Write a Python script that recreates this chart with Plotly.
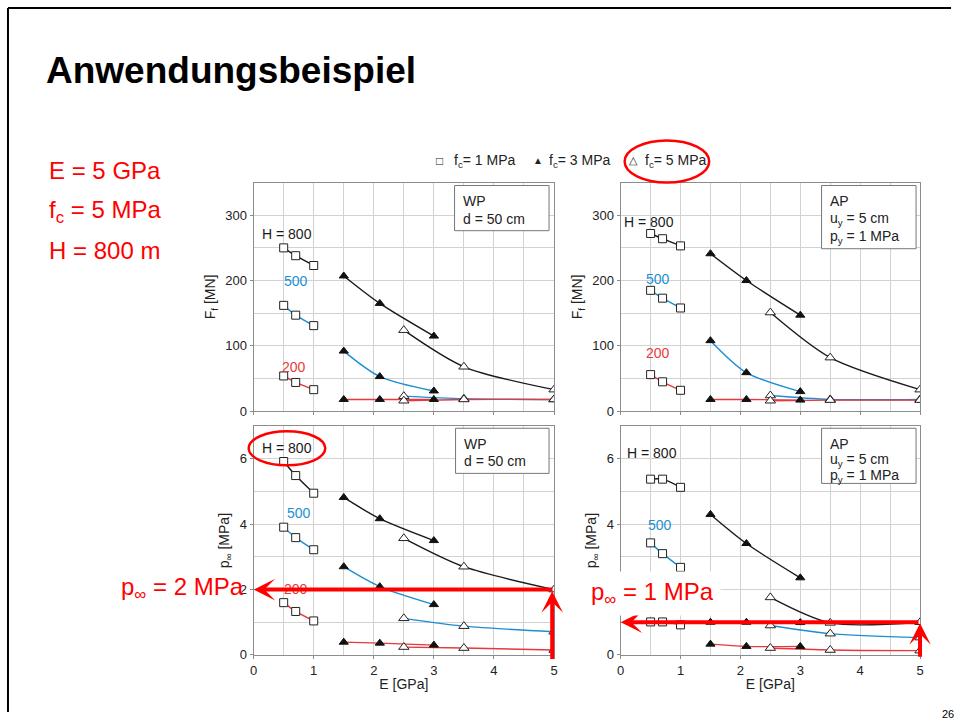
import plotly.graph_objects as go

W, H = 955, 720
FONT = "Liberation Sans, Arial, sans-serif"
RED = "#ff0000"

# the photographed page shows the figure slightly reduced; compensate so
# positions given in reference pixels land where they should
SX = 0.997
SY = 0.986


def px(x):
    return x / (W * SX)


def py(y):
    return 1 - y / (H * SY)


# ---------------- data ----------------
E_FC1 = [0.5, 0.7, 1.0]
E_FC3 = [1.5, 2.1, 3.0]
E_FC5 = [2.5, 3.5, 5.0]
H_LEVELS = ["800", "500", "200"]
H_COLORS = ["#1a1a1a", "#1b8fd2", "#e8383d"]

# rows: H = 800, 500, 200
WP_F_FC1 = [[250, 238, 223], [162, 147, 131], [54, 44, 33]]
WP_F_FC3 = [[207, 165, 115], [92, 53, 31], [18, 18, 18]]
WP_F_FC5 = [[124, 68, 33], [23, 19, 18], [16, 18, 18]]

AP_F_FC1 = [[272, 264, 253], [185, 173, 158], [56, 45, 32]]
AP_F_FC3 = [[241, 200, 147], [108, 59, 30], [18, 18, 17]]
AP_F_FC5 = [[151, 82, 33], [24, 18, 18], [16, 17, 17]]

WP_P_FC1 = [[5.92, 5.49, 4.95], [3.91, 3.59, 3.22], [1.60, 1.33, 1.04]]
WP_P_FC3 = [[4.82, 4.17, 3.50], [2.70, 2.09, 1.54], [0.39, 0.36, 0.30]]
WP_P_FC5 = [[3.57, 2.70, 2.00], [1.12, 0.88, 0.71], [0.24, 0.21, 0.15]]

AP_P_FC1 = [[5.38, 5.38, 5.13], [3.43, 3.10, 2.68], [1.01, 1.01, 0.92]]
AP_P_FC3 = [[4.30, 3.41, 2.36], [1.00, 1.00, 0.99], [0.33, 0.26, 0.26]]
AP_P_FC5 = [[1.76, 0.98, 1.00], [0.90, 0.65, 0.53], [0.21, 0.15, 0.13]]

F_TICKS = [0, 100, 200, 300]
P_TICKS = [0, 2, 4, 6]
E_TICKS = [0, 1, 2, 3, 4, 5]

E_TARGET = 5
P_WP_TARGET = 2
P_AP_TARGET = 1

# ---------------- figure ----------------
fig = go.Figure()

marker_styles = [
    dict(symbol="square", size=8, color="white", line=dict(color="#222", width=1)),
    dict(symbol="triangle-up", size=8, color="#111", line=dict(color="#111", width=1)),
    dict(symbol="triangle-up", size=9, color="white", line=dict(color="#222", width=1)),
]

panels = [
    ("x", "y", [WP_F_FC1, WP_F_FC3, WP_F_FC5]),
    ("x2", "y2", [AP_F_FC1, AP_F_FC3, AP_F_FC5]),
    ("x3", "y3", [WP_P_FC1, WP_P_FC3, WP_P_FC5]),
    ("x4", "y4", [AP_P_FC1, AP_P_FC3, AP_P_FC5]),
]
E_SETS = [E_FC1, E_FC3, E_FC5]

for xa, ya, groups in panels:
    for k, grp in enumerate(groups):
        for i, vals in enumerate(grp):
            fig.add_trace(go.Scatter(
                x=E_SETS[k], y=vals, xaxis=xa, yaxis=ya, mode="lines",
                line=dict(color=H_COLORS[i], width=1.4, shape="spline", smoothing=0.8),
                showlegend=False, hoverinfo="skip"))
    for k, grp in enumerate(groups):
        for i, vals in enumerate(grp):
            fig.add_trace(go.Scatter(
                x=E_SETS[k], y=vals, xaxis=xa, yaxis=ya, mode="markers",
                marker=marker_styles[k], showlegend=False,
                name=f"H={H_LEVELS[i]}"))

axis_common = dict(
    showline=True, linecolor="#8c8c8c", linewidth=1, mirror=True,
    showgrid=True, gridcolor="#d2d2d2", gridwidth=1, zeroline=False,
    tickfont=dict(family=FONT, size=13, color="#222"),
    ticks="outside", ticklen=3, tickcolor="#8c8c8c",
)

XL = [px(251), px(553)]
XR = [px(620), px(921)]
YT = [py(410), py(182)]
YB = [py(653), py(425)]

xcommon = dict(axis_common, range=[0, 5], tickmode="array", tickvals=E_TICKS,
               minor=dict(dtick=0.5, tick0=0, showgrid=True, gridcolor="#d2d2d2", ticks=""))
ytop = dict(axis_common, range=[0, 350], tickmode="array", tickvals=F_TICKS,
            minor=dict(dtick=50, tick0=0, showgrid=True, gridcolor="#d2d2d2", ticks=""),
            title=dict(text="F<sub>f</sub> [MN]", font=dict(family=FONT, size=14, color="#222"), standoff=6))
ybot = dict(axis_common, range=[0, 7], tickmode="array", tickvals=P_TICKS,
            minor=dict(dtick=1, tick0=0, showgrid=True, gridcolor="#d2d2d2", ticks=""),
            title=dict(text="p<sub>∞</sub> [MPa]", font=dict(family=FONT, size=14, color="#222"), standoff=6))
xtitle = dict(text="E [GPa]", font=dict(family=FONT, size=14, color="#222"), standoff=2)

fig.update_layout(
    width=W, height=H,
    margin=dict(l=0, r=0, t=0, b=0),
    paper_bgcolor="white", plot_bgcolor="white",
    font=dict(family=FONT, color="#222"),
    showlegend=False,
    xaxis=dict(xcommon, domain=XL, anchor="y", showticklabels=False),
    yaxis=dict(ytop, domain=YT, anchor="x"),
    xaxis2=dict(xcommon, domain=XR, anchor="y2", showticklabels=False),
    yaxis2=dict(ytop, domain=YT, anchor="x2"),
    xaxis3=dict(xcommon, domain=XL, anchor="y3", title=xtitle),
    yaxis3=dict(ybot, domain=YB, anchor="x3"),
    xaxis4=dict(xcommon, domain=XR, anchor="y4", title=xtitle),
    yaxis4=dict(ybot, domain=YB, anchor="x4"),
)

ann = []
shapes = []


def txt(text, x, y, size, color="#222", xanchor="left", yanchor="middle", **kw):
    ann.append(dict(text=text, x=x, y=y, xref="paper", yref="paper", showarrow=False,
                    xanchor=xanchor, yanchor=yanchor,
                    font=dict(family=FONT, size=size, color=color), **kw))


# slide frame
shapes.append(dict(type="line", xref="paper", yref="paper", x0=px(4), x1=1.0, y0=py(8), y1=py(8),
                   line=dict(color="black", width=2)))
shapes.append(dict(type="line", xref="paper", yref="paper", x0=px(4), x1=px(4), y0=py(8), y1=0.0,
                   line=dict(color="black", width=2)))

# title and parameters
txt("<b>Anwendungsbeispiel</b>", px(40), py(70), 37, color="black")
txt("E = 5 GPa", px(43), py(170), 24, color=RED)
txt("f<sub>c</sub> = 5 MPa", px(43), py(211), 24, color=RED)
txt("H = 800 m", px(43), py(250), 24, color=RED)
txt("26", px(941), py(712), 11, color="black")

# legend
txt("□", px(438), py(161), 12, xanchor="center")
txt("f<sub>c</sub>= 1 MPa", px(450), py(161), 14)
txt("▲", px(537), py(160), 10, xanchor="center")
txt("f<sub>c</sub>= 3 MPa", px(546), py(161), 14)
txt("△", px(633), py(160), 11, xanchor="center")
txt("f<sub>c</sub>= 5 MPa", px(642), py(161), 14)
shapes.append(dict(type="circle", xref="paper", yref="paper", x0=px(624), x1=px(709), y0=py(182), y1=py(140),
                   line=dict(color=RED, width=2.5)))


def dlabel(text, x, y, xa, ya, color):
    ann.append(dict(text=text, x=x, y=y, xref=xa, yref=ya, showarrow=False,
                    xanchor="center", yanchor="middle",
                    font=dict(family=FONT, size=14, color=color)))


dlabel("H = 800", 0.56, 271, "x", "y", H_COLORS[0])
dlabel("500", 0.70, 199, "x", "y", H_COLORS[1])
dlabel("200", 0.68, 67, "x", "y", H_COLORS[2])
dlabel("H = 800", 0.47, 290, "x2", "y2", H_COLORS[0])
dlabel("500", 0.63, 203, "x2", "y2", H_COLORS[1])
dlabel("200", 0.63, 89, "x2", "y2", H_COLORS[2])
dlabel("H = 800", 0.55, 6.32, "x3", "y3", H_COLORS[0])
dlabel("500", 0.75, 4.33, "x3", "y3", H_COLORS[1])
dlabel("200", 0.71, 2.02, "x3", "y3", H_COLORS[2])
dlabel("H = 800", 0.53, 6.17, "x4", "y4", H_COLORS[0])
dlabel("500", 0.65, 3.99, "x4", "y4", H_COLORS[1])


def box(x0, x1, y0, y1, lines, ytop_line, spacing):
    shapes.append(dict(type="rect", xref="paper", yref="paper", x0=px(x0), x1=px(x1), y0=py(y1), y1=py(y0),
                       line=dict(color="#777", width=1), fillcolor="white", layer="above"))
    for j, t in enumerate(lines):
        txt(t, px(x0 + 6), py(ytop_line + j * spacing), 14)


box(453, 548, 185, 230, ["WP", "d = 50 cm"], 200, 18)
box(822, 917, 185, 248, ["AP", "u<sub>y</sub> = 5 cm", "p<sub>y</sub> = 1 MPa"], 200, 18)
box(454, 548, 427, 472, ["WP", "d = 50 cm"], 443, 17)
box(822, 917, 427, 482, ["AP", "u<sub>y</sub> = 5 cm", "p<sub>y</sub> = 1 MPa"], 443, 16)

shapes.append(dict(type="circle", xref="paper", yref="paper", x0=px(246), x1=px(323), y0=py(464), y1=py(430),
                   line=dict(color=RED, width=2.5)))


def arrow(xa, ya, x, y, ax, ay):
    ann.append(dict(text="", x=x, y=y, xref=xa, yref=ya, ax=ax, ay=ay, axref=xa, ayref=ya,
                    showarrow=True, arrowhead=3, arrowsize=0.9, arrowwidth=4, arrowcolor=RED,
                    standoff=0, startstandoff=0))


arrow("x3", "y3", 0, P_WP_TARGET, E_TARGET, P_WP_TARGET)
arrow("x3", "y3", E_TARGET - 0.03, P_WP_TARGET - 0.05, E_TARGET - 0.03, -0.17)
arrow("x4", "y4", 0, P_AP_TARGET, E_TARGET, P_AP_TARGET)
arrow("x4", "y4", E_TARGET, P_AP_TARGET - 0.03, E_TARGET, -0.1)

txt("p<sub>∞</sub> = 2 MPa", px(243), py(587), 24, color=RED, xanchor="right")
ann.append(dict(text="p<sub>∞</sub> = 1 MPa", x=px(652), y=py(592), xref="paper", yref="paper",
                showarrow=False, xanchor="center", yanchor="middle", bgcolor="white",
                borderpad=6, font=dict(family=FONT, size=24, color=RED)))

fig.update_layout(annotations=ann, shapes=shapes)
fig.write_html("out.html")
